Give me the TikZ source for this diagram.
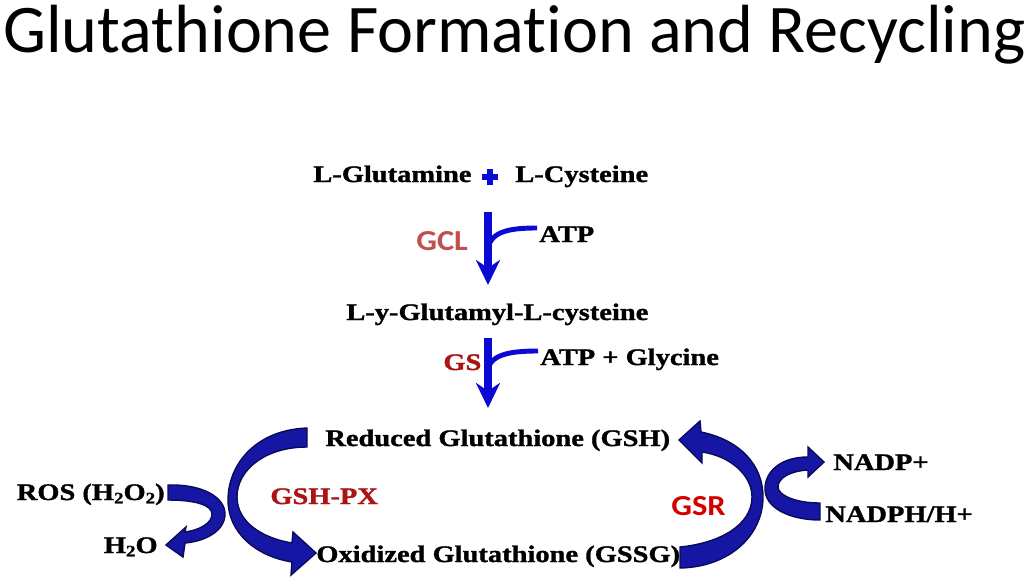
\documentclass[tikz,border=0pt]{standalone}
\usepackage{fontspec}
\setmainfont{Liberation Serif}[FakeStretch=1.2, BoldFeatures={FakeBold=1.3}]
\newfontfamily\titlefont{Carlito}[Ligatures=NoCommon]
\newfontfamily\enzfont{Carlito}[FakeStretch=1.12]
\usetikzlibrary{arrows.meta}

\definecolor{arrowblue}{RGB}{10,10,210}
\definecolor{ribbonblue}{RGB}{22,22,165}
\definecolor{ribbonedge}{RGB}{10,10,90}
\definecolor{gclred}{RGB}{192,80,77}
\definecolor{gsred}{RGB}{170,20,20}
\definecolor{gsrred}{RGB}{210,0,0}

\newcommand{\subtwo}{\raisebox{-0.3ex}{\fontsize{9}{9}\selectfont 2}}

\begin{document}
\begin{tikzpicture}[x=0.02cm, y=-0.02cm,
    chem/.style={anchor=base west, inner sep=0pt, font=\fontsize{13.5}{16}\selectfont\bfseries},
    enz/.style={anchor=base west, inner sep=0pt, font=\enzfont\fontsize{16.5}{19}\selectfont\bfseries},
    stem/.style={arrowblue, line width=4pt, -{Stealth[length=0.5cm, width=0.48cm, inset=0.16cm]}},
    branch/.style={arrowblue, line width=2.8pt},
    ribbon/.style={fill=ribbonblue, draw=ribbonedge, line width=0.8pt}]

    \useasboundingbox (0,0) rectangle (1024,579);

    % ================= title =================
    \node[anchor=base west, inner sep=0pt, font=\titlefont\fontsize{38.8}{44}\selectfont] (Title) at (3,52) {Glutathione Formation and Recycling};

    % ================= formation =================
    % substrates
    \node[chem] (Glu) at (313,182) {L-Glutamine};
    \node[chem] (Cys) at (515,182) {L-Cysteine};
    \node[inner sep=0pt, minimum size=0.32cm] (Plus) at (490,177) {};
    \draw[arrowblue, line width=0.12cm] (Plus.north) -- (Plus.south) (Plus.west) -- (Plus.east);

    % first step (GCL)
    \coordinate (S1) at (488,212);
    \coordinate (S1end) at (488,285);
    \coordinate (B1) at (537,228);
    \draw[stem] (S1) -- (S1end);
    \path (S1) -- (S1end) coordinate[pos=0.5] (J1);
    \draw[branch] (J1) .. controls +(3,-18) and +(-25,0) .. (B1);
    \node[chem] (ATP) at (539,242) {ATP};
    \node[enz, text=gclred] (GCL) at (416,250) {GCL};

    \node[chem] (GluCys) at (346,320) {L-y-Glutamyl-L-cysteine};

    % second step (GS)
    \coordinate (S2) at (488,338);
    \coordinate (S2end) at (488,408);
    \coordinate (B2) at (538,351);
    \draw[stem] (S2) -- (S2end);
    \path (S2) -- (S2end) coordinate[pos=0.45] (J2);
    \draw[branch] (J2) .. controls +(3,-16) and +(-25,0) .. (B2);
    \node[chem] (ATPGly) at (540,365) {ATP + Glycine};
    \node[chem, text=gsred] (GS) at (443,370) {GS};

    % ================= recycling =================
    \node[chem] (GSH) at (325,446) {Reduced Glutathione (GSH)};
    \node[chem] (GSSG) at (316,562) {Oxidized Glutathione (GSSG)};
    \node[chem, anchor=base east] (ROS) at (165,500) {ROS (H\subtwo O\subtwo)};
    \node[chem, anchor=base east] (Water) at (158,553) {H\subtwo O};
    \node[chem] (NADP) at (833,470) {NADP+};
    \node[chem] (NADPH) at (825,522) {NADPH/H+};
    \node[chem, text=gsred] (GPX) at (270,504) {GSH-PX};
    \node[enz, text=gsrred] (GSR) at (671,515) {GSR};

    % ROS -> H2O
    \draw[ribbon] (168,485) .. controls (202,484) and (225,497) .. (225,514)
        .. controls (225,530) and (207,541) .. (185,543) -- (183,557) -- (166,545)
        -- (186,527) -- (185,532) .. controls (200,530) and (212,523) .. (212,514)
        .. controls (212,505) and (195,500) .. (168,500) -- cycle;

    % GSH -> GSSG
    \draw[ribbon] (307,428) .. controls (255,430) and (228,465) .. (228,500)
        .. controls (228,532) and (255,556) .. (292,562) -- (291,575) -- (316,553)
        -- (293,532) -- (292,543) .. controls (262,538) and (237,522) .. (237,497)
        .. controls (237,470) and (265,447) .. (307,447) -- cycle;

    % GSSG -> GSH
    \draw[ribbon] (680,547) .. controls (720,543) and (752,525) .. (752,497)
        .. controls (752,475) and (730,456) .. (702,452) -- (702,463) -- (679,440)
        -- (700,421) -- (701,432) .. controls (740,440) and (763,465) .. (763,497)
        .. controls (763,535) and (730,567) .. (680,568) -- cycle;

    % NADPH -> NADP+
    \draw[ribbon] (820,503) .. controls (795,503) and (778,495) .. (778,487)
        .. controls (778,478) and (790,471) .. (808,470) -- (808,477) -- (824,462)
        -- (808,447) -- (808,457) .. controls (780,457) and (765,472) .. (765,489)
        .. controls (765,508) and (790,520) .. (820,520) -- cycle;

\end{tikzpicture}
\end{document}
